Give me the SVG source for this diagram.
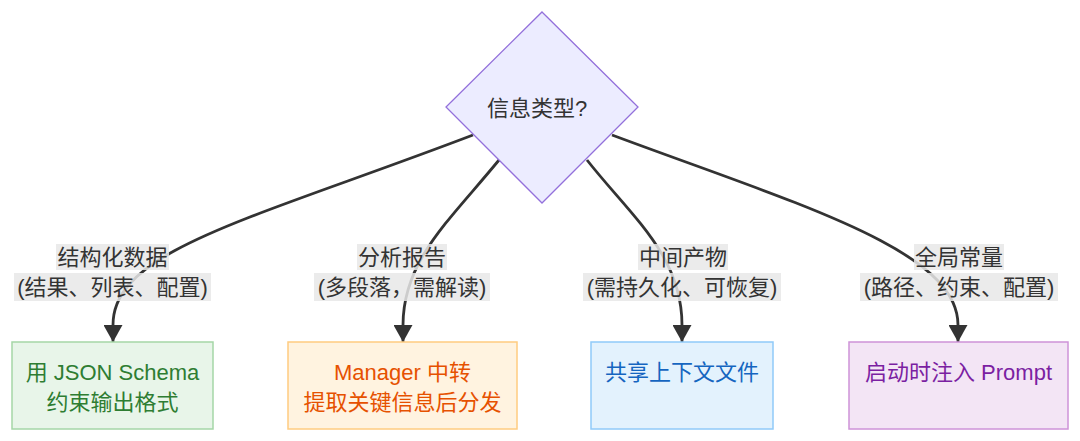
<svg xmlns="http://www.w3.org/2000/svg" width="1080" height="441" viewBox="0 0 1080 441">
<style>
text{font-family:"Liberation Sans","Noto Sans CJK SC",sans-serif;font-size:22px;text-anchor:middle;dominant-baseline:central}
.edge{fill:none;stroke:#333;stroke-width:2.8;marker-end:url(#arr)}
.lbg{fill:#e8e8e8;fill-opacity:0.85}
.lt{fill:#333}
</style>
<defs>
<marker id="arr" viewBox="0 0 17 19" refX="17" refY="9.5" markerWidth="17" markerHeight="19" markerUnits="userSpaceOnUse" orient="auto">
<path d="M0,0 L17,9.5 L0,19 z" fill="#333"/>
</marker>
</defs>
<rect width="1080" height="441" fill="#fff"/>
<g id="edges">
<path class="edge" d="M473,135 C250,220 113,250 113,325 L113,342"/>
<path class="edge" d="M499,160 C450,220 403,260 403,325 L403,342"/>
<path class="edge" d="M587,160 C630,215 682,255 682,325 L682,342"/>
<path class="edge" d="M612,135 C800,205 958,250 958,325 L958,342"/>
</g>
<g id="edge-labels">
<g id="label-structured">
<rect class="lbg" x="56" y="244" width="113" height="26"/>
<rect class="lbg" x="14" y="273" width="197" height="28"/>
<text class="lt" x="112.5" y="257">结构化数据</text>
<text class="lt" x="112.5" y="287">(结果、列表、配置)</text>
</g>
<g id="label-report">
<rect class="lbg" x="357" y="244" width="90" height="26"/>
<rect class="lbg" x="314" y="273" width="176" height="28"/>
<text class="lt" x="402" y="257">分析报告</text>
<text class="lt" x="402" y="287">(多段落，需解读)</text>
</g>
<g id="label-intermediate">
<rect class="lbg" x="638" y="244" width="90" height="26"/>
<rect class="lbg" x="583" y="273" width="198" height="28"/>
<text class="lt" x="683" y="257">中间产物</text>
<text class="lt" x="682" y="287">(需持久化、可恢复)</text>
</g>
<g id="label-global">
<rect class="lbg" x="914" y="244" width="90" height="26"/>
<rect class="lbg" x="860" y="273" width="198" height="28"/>
<text class="lt" x="959" y="257">全局常量</text>
<text class="lt" x="959" y="287">(路径、约束、配置)</text>
</g>
</g>
<g id="decision">
<polygon points="542,12 638,107 542,203 446,107" fill="#ececff" stroke="#9370db" stroke-width="1.3"/>
<text x="537" y="108" fill="#333">信息类型?</text>
</g>
<g id="node-schema">
<rect x="12" y="342" width="201" height="87" fill="#e8f5e9" stroke="#a5d6a7" stroke-width="1.5"/>
<text x="112.5" y="372" fill="#2e7d32">用 JSON Schema</text>
<text x="112.5" y="402" fill="#2e7d32">约束输出格式</text>
</g>
<g id="node-manager">
<rect x="288" y="342" width="229" height="87" fill="#fff3e0" stroke="#ffcc80" stroke-width="1.5"/>
<text x="402.5" y="372" fill="#e65100">Manager 中转</text>
<text x="402.5" y="402" fill="#e65100">提取关键信息后分发</text>
</g>
<g id="node-shared">
<rect x="591" y="342" width="182" height="87" fill="#e3f2fd" stroke="#90caf9" stroke-width="1.5"/>
<text x="682" y="372" fill="#1565c0">共享上下文文件</text>
</g>
<g id="node-prompt">
<rect x="849" y="342" width="219" height="87" fill="#f3e5f5" stroke="#ce93d8" stroke-width="1.5"/>
<text x="958.5" y="372" fill="#7b1fa2">启动时注入 Prompt</text>
</g>
</svg>
